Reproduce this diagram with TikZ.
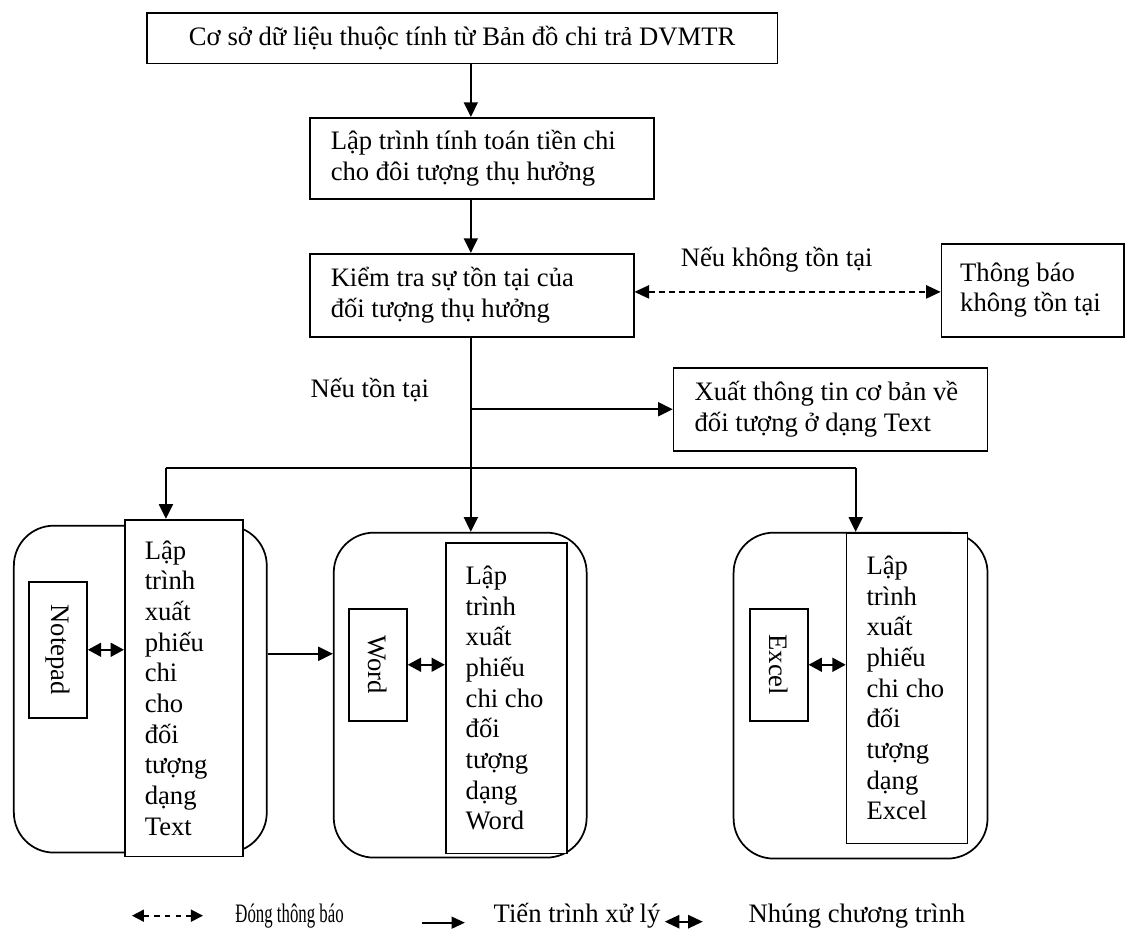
\documentclass[tikz,border=0pt]{standalone}
\usepackage{fontspec}
\setmainfont{Liberation Serif}
\usetikzlibrary{arrows.meta}

\tikzset{every picture/.style={line width=1.3pt}}
\tikzset{
	box/.style={draw, fill=white, align=flush left, anchor=north west, inner ysep=0pt},
	group/.style={draw, rounded corners=30pt, anchor=north west},
	app/.style={draw, fill=white, rotate=-90, minimum height=43.5pt},
	flow/.style={-{Triangle[length=11pt,width=10.5pt]}},
	note/.style={dash pattern=on 4.5pt off 3pt, {Triangle[length=11pt,width=10pt]}-{Triangle[length=11pt,width=10pt]}},
	embed/.style={{Triangle[length=10pt,width=10.5pt]}-{Triangle[length=10pt,width=10.5pt]}},
	legend/.style={anchor=base west, inner sep=0pt}
}

\begin{document}
\begin{tikzpicture}[x=0.75pt,y=0.75pt,yscale=-1,xscale=1,font=\fontsize{20}{23}\selectfont]
	\path (0,0) rectangle (1125,926);

	% upper chain
	\node[box, align=center, minimum width=473.25pt, minimum height=38pt] (db) at (146,12) {Cơ sở dữ liệu thuộc tính từ Bản đồ chi trả DVMTR};
	\node[box, inner xsep=15.75pt, text width=226.5pt, minimum height=60.75pt] (calc) at (309,117) {Lập trình tính toán tiền chi\\cho đôi tượng thụ hưởng};
	\node[box, inner xsep=15.75pt, text width=211.5pt, minimum height=62.25pt] (check) at (309,253) {Kiểm tra sự tồn tại của\\đối tượng thụ hưởng};
	\node[box, inner xsep=14pt, text width=109pt, minimum height=69.75pt] (notice) at (941,243) {Thông báo\\không tồn tại};
	\node[box, inner xsep=15.75pt, text width=204pt, minimum height=62.25pt] (export) at (673,367) {Xuất thông tin cơ bản về\\đối tượng ở dạng Text};

	% labels
	\node (nolabel) at (777,260) {Nếu không tồn tại};
	\node (yeslabel) at (370,390) {Nếu tồn tại};

	% bottom groups
	\node[group, minimum width=189.75pt, minimum height=245.25pt] (g1) at (13,525) {};
	\node[group, minimum width=189.75pt, minimum height=243.75pt] (g2) at (333,532) {};
	\node[group, minimum width=190.5pt, minimum height=244.5pt] (g3) at (733,532) {};

	\node[box, inner xsep=15pt, text width=58.5pt, minimum height=252.75pt] (t1) at (124,519) {Lập\\trình\\xuất\\phiếu\\chi\\cho\\đối\\tượng\\dạng\\Text};
	\node[box, inner xsep=15pt, text width=60.75pt, minimum height=233.25pt] (t2) at (445,542) {Lập\\trình\\xuất\\phiếu\\chi cho\\đối\\tượng\\dạng\\Word};
	\node[box, inner xsep=15pt, text width=60.75pt, minimum height=233.25pt] (t3) at (846,532) {Lập\\trình\\xuất\\phiếu\\chi cho\\đối\\tượng\\dạng\\Excel};

	\node[app, minimum width=102pt] (np) at (58,650) {Notepad};
	\node[app, minimum width=84pt] (wd) at (378,665) {Word};
	\node[app, minimum width=84pt] (xl) at (779,665) {Excel};

	% connectors
	\coordinate (spine) at (471,0);
	\coordinate (bus) at (471,468);
	\coordinate (busL) at (166,468);
	\coordinate (busR) at (856,468);
	\draw[flow] (spine |- db.south) -- (spine |- calc.north);
	\draw[flow] (spine |- calc.south) -- (spine |- check.north);
	\draw (spine |- check.south) -- (bus);
	\draw[flow] (spine |- export.west) -- (export.west);
	\draw[note] (check.east |- 0,292) -- (notice.west |- 0,292);
	\draw (busL) -- (busR);
	\draw[flow] (busL) -- (busL |- t1.north);
	\draw[flow] (bus) -- (bus |- g2.north);
	\draw[flow] (busR) -- (busR |- t3.north);
	\draw[flow] (g1.east |- 0,654) -- (g2.west |- 0,654);
	\draw[embed] (np.north) -- (np.north -| t1.west);
	\draw[embed] (wd.north) -- (wd.north -| t2.west);
	\draw[embed] (xl.north) -- (xl.north -| t3.west);

	% legend
	\coordinate (lgA) at (132,916);
	\coordinate (lgB) at (203,916);
	\coordinate (lgC) at (422,923);
	\coordinate (lgD) at (465,923);
	\coordinate (lgE) at (665,922);
	\coordinate (lgF) at (703,922);
	\draw[dash pattern=on 4pt off 4pt, {Triangle[length=9pt,width=9pt]}-{Triangle[length=9pt,width=9pt]}] (lgA) -- (lgB);
	\node[legend, xscale=0.63] (lgnote) at (235,923) {Đóng thông báo};
	\draw[-{Triangle[length=10pt,width=9pt]}] (lgC) -- (lgD);
	\node[legend] (lgflow) at (493,923) {Tiến trình xử lý};
	\draw[{Triangle[length=11pt,width=10pt]}-{Triangle[length=11pt,width=10pt]}] (lgE) -- (lgF);
	\node[legend] (lgembed) at (748,923) {Nhúng chương trình};

\end{tikzpicture}
\end{document}
